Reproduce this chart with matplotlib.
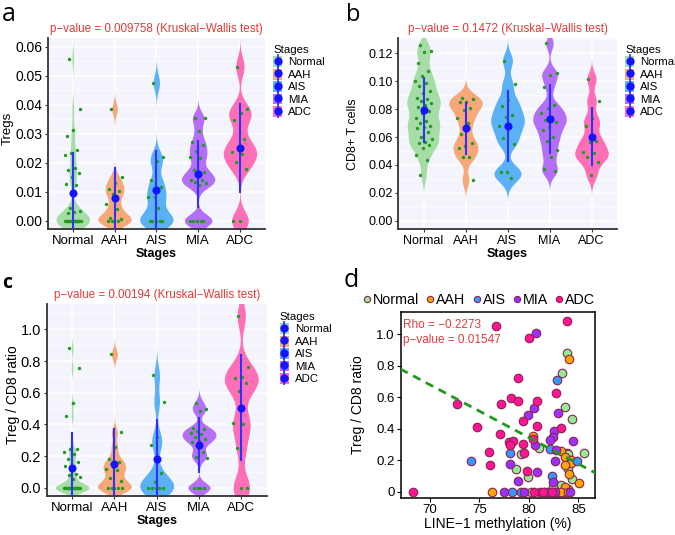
import numpy as np
import matplotlib.pyplot as plt
from matplotlib.patches import Patch
from matplotlib.lines import Line2D
from matplotlib.legend_handler import HandlerTuple

plt.rcParams['font.family'] = ['Liberation Sans', 'DejaVu Sans']

stages = ["Normal", "AAH", "AIS", "MIA", "ADC"]
violin_colors = ["#A6DDA6", "#F6A878", "#5AB1F6", "#B56FF6", "#FF6FB8"]
point_colors = ["#90EE90", "#FFA500", "#3399FF", "#9B30FF", "#FF1493"]

# panel a: Tregs
tregs_normal = [0.0558, 0.0385, 0.0311, 0.0292, 0.0242, 0.0233, 0.0226, 0.0182, 0.0175,
                0.0164, 0.0151, 0.0127, 0.0122, 0.0044, 0.0034, 0.0029, 0.0026,
                0, 0, 0, 0, 0, 0, 0, 0, 0, 0, 0, 0, 0, 0, 0, 0, 0, 0]
tregs_aah = [0.0385, 0.0149, 0.0130, 0.0110, 0.0103, 0.0091, 0.0057, 0.0040, 0.0010,
             0.0006, 0, 0, 0, 0]
tregs_ais = [0.0476, 0.0220, 0.0204, 0.0139, 0.0117, 0.0083, 0.0083, 0.0044, 0, 0, 0, 0, 0]
tregs_mia = [0.0354, 0.0354, 0.0308, 0.0271, 0.0260, 0.0241, 0.0218, 0.0216, 0.0173,
             0.0167, 0.0158, 0.0141, 0.0139, 0.0133, 0.0130, 0.0122, 0, 0, 0, 0, 0]
tregs_adc = [0.0531, 0.0385, 0.0370, 0.0347, 0.0282, 0.0250, 0.0235, 0.0229, 0.0201,
             0.0178, 0, 0]

# panel b: CD8+ T cells
cd8_normal = [0.1260, 0.1217, 0.1207, 0.1128, 0.1073, 0.1038, 0.1004, 0.0985, 0.0966,
              0.0930, 0.0913, 0.0882, 0.0870, 0.0858, 0.0842, 0.0830, 0.0813, 0.0787,
              0.0770, 0.0734, 0.0717, 0.0698, 0.0681, 0.0672, 0.0662, 0.0638, 0.0602,
              0.0583, 0.0567, 0.0555, 0.0543, 0.0524, 0.0469, 0.0435, 0.0328]
cd8_aah = [0.0882, 0.0873, 0.0853, 0.0849, 0.0806, 0.0794, 0.0739, 0.0700, 0.0620,
           0.0555, 0.0536, 0.0519, 0.0459, 0.0454, 0.0292]
cd8_ais = [0.1148, 0.0978, 0.0865, 0.0822, 0.0758, 0.0741, 0.0679, 0.0674, 0.0595,
           0.0552, 0.0351, 0.0351, 0.0304]
cd8_mia = [0.1272, 0.1057, 0.1045, 0.0961, 0.0830, 0.0806, 0.0770, 0.0746, 0.0722,
           0.0710, 0.0674, 0.0650, 0.0598, 0.0571, 0.0507, 0.0459, 0.0368, 0.0356]
cd8_adc = [0.1016, 0.0861, 0.0734, 0.0679, 0.0574, 0.0567, 0.0495, 0.0483, 0.0459,
           0.0418, 0.0328]

# panel c: Treg / CD8 ratio
ratio_normal = [0.880, 0.754, 0.533, 0.455, 0.244, 0.244, 0.223, 0.211, 0.181, 0.164,
                0.139, 0.139, 0.088, 0.080, 0.069, 0.053,
                0, 0, 0, 0, 0, 0, 0, 0, 0, 0, 0, 0, 0, 0, 0, 0, 0, 0, 0]
ratio_aah = [0.842, 0.349, 0.255, 0.179, 0.164, 0.133, 0.118, 0.109, 0.059, 0.044,
             0, 0, 0, 0, 0]
ratio_ais = [0.709, 0.543, 0.318, 0.267, 0.095, 0.038, 0, 0, 0, 0, 0]
ratio_mia = [0.535, 0.497, 0.484, 0.375, 0.368, 0.360, 0.343, 0.337, 0.318, 0.307,
             0.297, 0.286, 0.227, 0.196, 0.189, 0, 0, 0, 0]
ratio_adc = [1.084, 0.764, 0.701, 0.695, 0.659, 0.611, 0.406, 0.400, 0.248, 0, 0]

# panel d: LINE-1 methylation vs ratio
line1_normal = [83.82, 83.38, 83.68, 84.36, 81.01, 83.82, 83.99, 85.60, 79.22, 78.71,
                83.99, 84.39, 79.93, 83.21, 82.40, 80.17, 82.13, 82.87, 83.55]
tc_normal = [0.883, 0.756, 0.536, 0.460, 0.280, 0.248, 0.237, 0.246, 0.237, 0.144,
             0.142, 0.080, 0.092, 0.040, 0.030, 0, 0, 0, 0]
line1_aah = [84.05, 80.45, 83.25, 83.60, 84.22, 84.29, 83.65, 84.05, 85.10, 84.00,
             83.60, 76.28, 83.20, 84.00]
tc_aah = [0.845, 0.352, 0.258, 0.220, 0.200, 0.184, 0.169, 0.110, 0.057, 0.015,
          0.030, 0, 0, 0]
line1_ais = [82.87, 82.13, 78.07, 84.90, 74.15, 82.30, 78.31, 79.22, 81.60]
tc_ais = [0.710, 0.272, 0.248, 0.195, 0.195, 0.098, 0, 0, 0]
line1_mia = [80.74, 80.55, 79.86, 82.98, 82.53, 82.40, 82.10, 84.50, 80.62, 82.70,
             82.60, 78.07, 80.84, 78.88, 82.40, 77.53, 79.49, 81.93, 82.60, 84.20]
tc_mia = [1.006, 0.530, 0.487, 0.500, 0.384, 0.350, 0.326, 0.320, 0.294, 0.267,
          0.195, 0.176, 0.125, 0.070, 0.059, 0, 0, 0, 0, 0]
line1_adc = [76.72, 83.85, 80.00, 78.88, 82.77, 78.20, 78.88, 80.84, 72.70, 77.13,
             79.43, 74.72, 80.84, 83.24, 77.06, 80.45, 77.97, 78.41, 78.07, 79.43,
             76.00, 79.55, 76.10, 79.80, 68.25, 81.08, 81.42, 82.33, 80.50]
tc_adc = [1.055, 1.085, 0.975, 0.722, 0.627, 0.597, 0.574, 0.576, 0.555, 0.555,
          0.451, 0.413, 0.415, 0.403, 0.368, 0.335, 0.318, 0.320, 0.297, 0.303,
          0.254, 0.246, 0.169, 0.133, 0, 0, 0, 0, 0]
fit_x = [67.0, 86.7]
fit_y = [0.78, 0.12]

red = "#E23B3B"
blue = "#1414FF"
W, H = 675, 535
fig = plt.figure(figsize=(W / 100, H / 100), dpi=100)


def add_axes_px(left, top, right, bottom):
    return fig.add_axes([left / W, 1 - bottom / H, (right - left) / W, (bottom - top) / H])


def draw_violin(ax, pos, vals, color, adjust=0.5, half=0.4):
    vals = np.asarray(vals, dtype=float)
    n = len(vals)
    q75, q25 = np.percentile(vals, [75, 25])
    lo = min(vals.std(ddof=1), (q75 - q25) / 1.34)
    if lo <= 0:
        lo = vals.std(ddof=1)
    bw = 0.9 * lo * n ** -0.2 * adjust
    grid = np.linspace(vals.min() - 3 * bw, vals.max() + 3 * bw, 512)
    dens = np.exp(-0.5 * ((grid[:, None] - vals[None, :]) / bw) ** 2).sum(axis=1)
    w = dens / dens.max() * half
    ax.fill_betweenx(grid, pos - w, pos + w, color=color, lw=0, zorder=2)


def violin_panel(ax, groups, ylim, yticks, ylabels, yminor, ylabel, title,
                 ytick_fs, xtick_fs, ylab_fs, legend_x, legend_top, title_y):
    ax.set_facecolor("#F4F5FC")
    for s in ["top", "right"]:
        ax.spines[s].set_visible(False)
    for s in ["left", "bottom"]:
        ax.spines[s].set_color("#333333")
        ax.spines[s].set_linewidth(1.3)
    ax.set_xlim(0.4, 5.6)
    ax.set_ylim(*ylim)
    ax.set_yticks(yticks)
    ax.set_yticklabels(ylabels, fontsize=ytick_fs)
    ax.set_yticks(yminor, minor=True)
    ax.set_xticks(range(1, 6))
    ax.set_xticklabels(stages, fontsize=xtick_fs)
    ax.grid(which="major", color="white", lw=1.1)
    ax.grid(which="minor", axis="y", color="white", lw=0.5)
    ax.set_axisbelow(True)
    ax.tick_params(which="major", length=2.5, width=0.8, color="#333333", pad=1.5,
                   labelcolor="black")
    ax.tick_params(which="minor", length=0)
    for i, vals in enumerate(groups):
        pos = i + 1
        draw_violin(ax, pos, vals, violin_colors[i])
        idx = np.arange(len(vals))
        jit = ((idx * 0.618034 + 0.3) % 1 - 0.5) * 0.4
        ax.scatter(pos + jit, vals, s=6, color="#229A22", lw=0, zorder=3)
        m = np.mean(vals)
        sd = np.std(vals, ddof=1)
        ax.plot([pos, pos], [m - sd, m + sd], color="#3030FF", lw=1.5, zorder=4)
        ax.scatter([pos], [m], s=34, color=blue, lw=0, zorder=5)
    ax.set_ylabel(ylabel, fontsize=ylab_fs, va="center")
    ax.set_xlabel("Stages", fontsize=9, fontweight="bold", labelpad=1)
    ax.text(0.5, title_y, title, color=red, fontsize=8.4, ha="center", va="center",
            transform=ax.transAxes)
    handles = [(Patch(facecolor=c, edgecolor="none"),
                Line2D([], [], color="#3030FF", marker="|", markersize=10, mew=1.2,
                       linestyle="none"),
                Line2D([], [], color=blue, marker="o", markersize=5, linestyle="none"))
               for c in violin_colors]
    ax.legend(handles, stages, handler_map={tuple: HandlerTuple(ndivide=1)},
              loc="upper left", bbox_to_anchor=(legend_x, legend_top), frameon=False,
              title="Stages", title_fontsize=8.2, fontsize=8.2, alignment="left",
              handlelength=0.8, handleheight=1.1, labelspacing=0.1,
              handletextpad=0.5, borderpad=0, borderaxespad=0)


# panel a
ax_a = add_axes_px(47.7, 38.3, 265, 229.3)
violin_panel(ax_a, [tregs_normal, tregs_aah, tregs_ais, tregs_mia, tregs_adc],
             (-0.003, 0.0629), np.arange(0, 0.061, 0.01),
             ["0.00", "0.01", "0.02", "0.03", "0.04", "0.05", "0.06"],
             np.arange(0.005, 0.061, 0.01), "Tregs",
             "p\u2212value = 0.009758 (Kruskal\u2212Wallis test)", 10, 9.5, 9.5,
             1.037, 0.965, 1.047)
ax_a.yaxis.set_label_coords(-0.185, 0.53)

# panel b
ax_b = add_axes_px(398.3, 38.3, 616.7, 229.3)
violin_panel(ax_b, [cd8_normal, cd8_aah, cd8_ais, cd8_mia, cd8_adc],
             (-0.0062, 0.1308), np.arange(0, 0.121, 0.02),
             ["0.00", "0.02", "0.04", "0.06", "0.08", "0.10", "0.12"],
             np.arange(0.01, 0.131, 0.02), "CD8+ T cells",
             "p\u2212value = 0.1472 (Kruskal\u2212Wallis test)", 9, 9, 9,
             1.038, 0.965, 1.047)
ax_b.yaxis.set_label_coords(-0.207, 0.5)

# panel c
ax_c = add_axes_px(46.7, 304.3, 266.7, 496)
violin_panel(ax_c, [ratio_normal, ratio_aah, ratio_ais, ratio_mia, ratio_adc],
             (-0.052, 1.158), np.arange(0, 1.01, 0.2),
             ["0.0", "0.2", "0.4", "0.6", "0.8", "1.0"],
             np.arange(0.1, 1.16, 0.2), "Treg / CD8 ratio",
             "p\u2212value = 0.00194 (Kruskal\u2212Wallis test)", 10.5, 9.5, 10,
             1.06, 0.96, 1.048)
ax_c.yaxis.set_label_coords(-0.153, 0.53)

# panel d
ax_d = add_axes_px(401, 312.3, 595, 497.7)
groups_d = [(line1_normal, tc_normal), (line1_aah, tc_aah), (line1_ais, tc_ais),
            (line1_mia, tc_mia), (line1_adc, tc_adc)]
for (gx, gy), c in zip(groups_d, point_colors):
    ax_d.scatter(gx, gy, s=38, color=c, edgecolor="#8B2252", lw=0.8, zorder=3)
ax_d.plot(fit_x, fit_y, color="#1E9A1E", lw=2, dashes=(3, 2.2), zorder=4)
ax_d.set_xlim(67.07, 86.68)
ax_d.set_ylim(-0.038, 1.14)
ax_d.set_xticks([70, 75, 80, 85])
ax_d.set_yticks([0, 0.2, 0.4, 0.6, 0.8, 1.0])
ax_d.set_yticklabels(["0", "0.2", "0.4", "0.6", "0.8", "1.0"])
ax_d.tick_params(labelsize=9.5, length=3, width=0.8, pad=1.5)
for s in ax_d.spines.values():
    s.set_linewidth(1.1)
ax_d.set_xlabel("LINE\u22121 methylation (%)", fontsize=10, labelpad=1)
ax_d.set_ylabel("Treg / CD8 ratio", fontsize=10, va="center")
ax_d.yaxis.set_label_coords(-0.222, 0.5)
ax_d.text(0.012, 0.931, "Rho = \u22120.2273", color=red, fontsize=8.5, va="center",
          transform=ax_d.transAxes)
ax_d.text(0.012, 0.85, "p\u2212value = 0.01547", color=red, fontsize=8.5, va="center",
          transform=ax_d.transAxes)
d_handles = [Line2D([], [], marker="o", linestyle="none", markersize=4.5,
                    markerfacecolor=c, markeredgecolor="#8B2252", markeredgewidth=0.8)
             for c in point_colors]
ax_d.legend(d_handles, stages, ncol=5, loc="lower left", bbox_to_anchor=(-0.19, 1.03),
            frameon=False, fontsize=10.3, handlelength=0.4, handletextpad=0.2,
            columnspacing=0.6, borderpad=0, borderaxespad=0)

# panel letters
fig.text(2 / W, 1 - 21 / H, "a", fontsize=18, family="Open Sans", va="baseline")
fig.text(346 / W, 1 - 21 / H, "b", fontsize=17, family="Open Sans", va="baseline")
fig.text(2 / W, 1 - 288 / H, "c", fontsize=14, family="Open Sans", fontweight="bold",
         va="baseline")
fig.text(344 / W, 1 - 287 / H, "d", fontsize=18, family="Open Sans", va="baseline")

fig.savefig("out.png", dpi=100)
